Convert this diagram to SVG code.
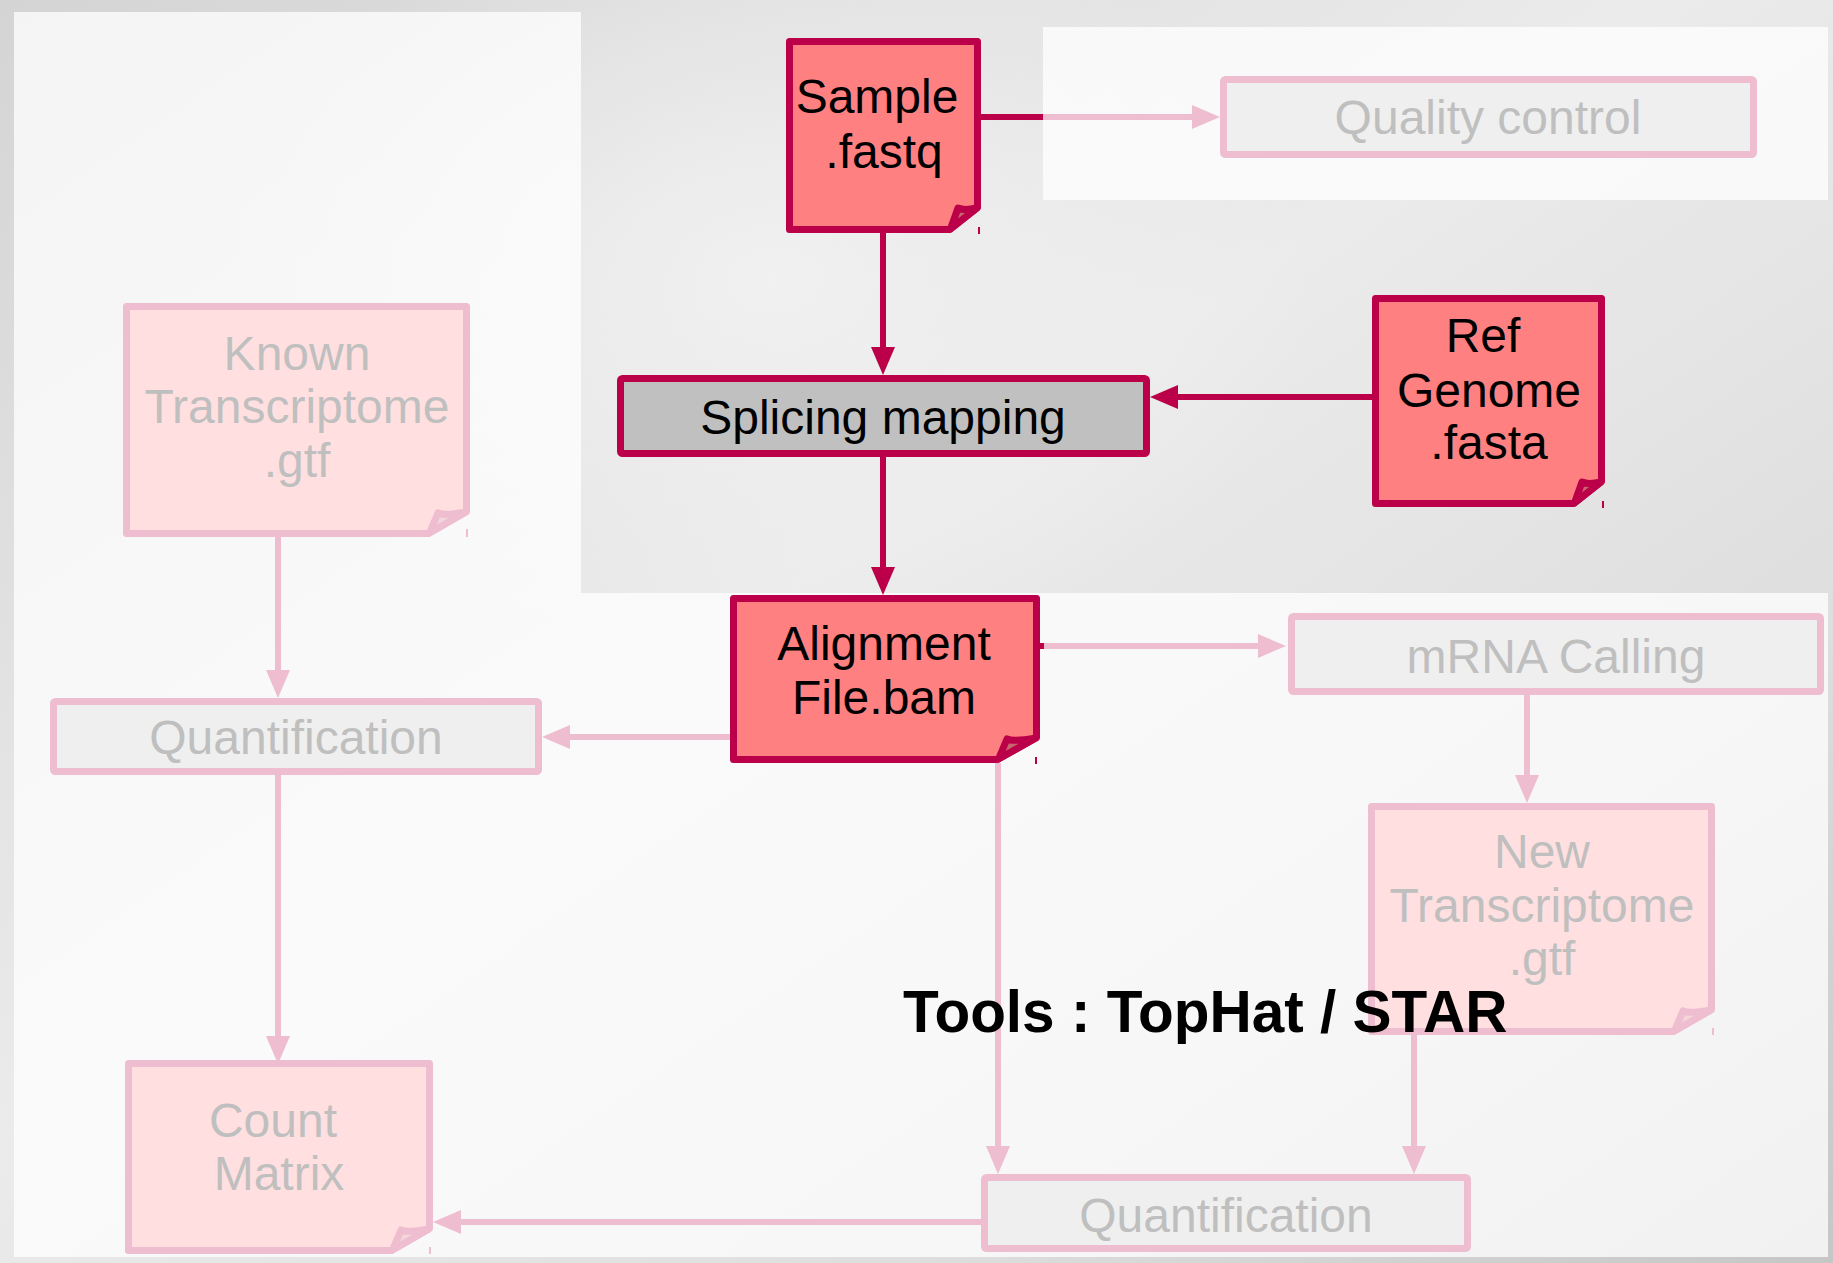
<svg xmlns="http://www.w3.org/2000/svg" width="1833" height="1263" viewBox="0 0 1833 1263">
<defs>
<linearGradient id="bg" x1="0" y1="0" x2="1" y2="1">
<stop offset="0" stop-color="#d4d4d4"/>
<stop offset="0.45" stop-color="#ebebeb"/>
<stop offset="0.75" stop-color="#dedede"/>
<stop offset="1" stop-color="#c6c6c6"/>
</linearGradient>
<radialGradient id="hl" cx="0.42" cy="0.22" r="0.3">
<stop offset="0" stop-color="#f2f2f2" stop-opacity="0.9"/>
<stop offset="1" stop-color="#f2f2f2" stop-opacity="0"/>
</radialGradient>
<marker id="ahC" viewBox="0 0 28 24" refX="16" refY="12" markerWidth="28" markerHeight="24" markerUnits="userSpaceOnUse" orient="auto">
<path d="M0 0 L28 12 L0 24 Z" fill="#bb0049"/>
</marker>
<marker id="ahP" viewBox="0 0 28 24" refX="16" refY="12" markerWidth="28" markerHeight="24" markerUnits="userSpaceOnUse" orient="auto">
<path d="M0 0 L28 12 L0 24 Z" fill="#eebdd0"/>
</marker>
</defs>
<style>
text { font-family: "Liberation Sans", Arial, sans-serif; font-size: 48px; text-anchor: middle; }
.on { stroke: #bb0049; stroke-width: 7; stroke-linejoin: round; }
.off { stroke: #eebdd0; stroke-width: 7; stroke-linejoin: round; }
.docOn { fill: #ff8080; }
.docOff { fill: #ffdfdf; }
.curlOn { fill: #c8666e; }
.curlOff { fill: #f2d6da; }
.procOn { fill: #c0c0c0; }
.procOff { fill: #efefef; }
.tOn { fill: #000000; }
.tOff { fill: #bfbfbf; }
.lnC { stroke: #bb0049; stroke-width: 6; fill: none; }
.lnP { stroke: #eebdd0; stroke-width: 6; fill: none; }
.tick { stroke-width: 2; }
.panel { fill: #ffffff; fill-opacity: 0.75; }
.tools { font-weight: bold; font-size: 58.5px; text-anchor: start; }
</style>

<rect x="0" y="0" width="1833" height="1263" fill="url(#bg)"/>
<rect x="0" y="0" width="1833" height="1263" fill="url(#hl)"/>

<g id="panels">
<rect class="panel" x="14" y="12" width="567" height="1245"/>
<rect class="panel" x="1043" y="27" width="785" height="173"/>
<rect class="panel" x="581" y="593" width="1247" height="664"/>
</g>

<g id="connectors">
<path class="lnC" d="M981 117 H1043"/>
<path class="lnP" d="M1043 117 H1208" marker-end="url(#ahP)"/>
<path class="lnC" d="M883 233 V363" marker-end="url(#ahC)"/>
<path class="lnC" d="M1372 397 H1162" marker-end="url(#ahC)"/>
<path class="lnC" d="M883 457 V583" marker-end="url(#ahC)"/>
<path class="lnC" d="M1040 646 H1044"/>
<path class="lnP" d="M1044 646 H1274" marker-end="url(#ahP)"/>
<path class="lnP" d="M730 737 H554" marker-end="url(#ahP)"/>
<path class="lnP" d="M998 763 V1162" marker-end="url(#ahP)"/>
<path class="lnP" d="M278 537 V686" marker-end="url(#ahP)"/>
<path class="lnP" d="M278 775 V1052" marker-end="url(#ahP)"/>
<path class="lnP" d="M1527 695 V791" marker-end="url(#ahP)"/>
<path class="lnP" d="M1414 1035 V1162" marker-end="url(#ahP)"/>
<path class="lnP" d="M981 1222 H445" marker-end="url(#ahP)"/>
</g>

<g id="sample">
<path class="on docOn" d="M789.5 41.5 H977.5 V207.5 L949.5 229.5 H789.5 Z"/>
<path class="on curlOn" stroke-width="4" d="M950.5 229 L958 208 Q964 211 977 208 Z"/>
<line class="on tick" x1="979" y1="227" x2="979" y2="234"/>
<text class="tOn" x="877" y="113">Sample</text>
<text class="tOn" x="884" y="168">.fastq</text>
</g>

<g id="ref-genome">
<path class="on docOn" d="M1375.5 298.5 H1601.5 V481.5 L1573.5 503.5 H1375.5 Z"/>
<path class="on curlOn" stroke-width="4" d="M1574.5 503 L1582 482 Q1588 485 1601 482 Z"/>
<line class="on tick" x1="1603" y1="501" x2="1603" y2="508"/>
<text class="tOn" x="1483" y="352">Ref</text>
<text class="tOn" x="1489" y="407">Genome</text>
<text class="tOn" x="1489" y="459">.fasta</text>
</g>

<g id="splicing-mapping">
<rect class="on procOn" x="620.5" y="378.5" width="526" height="75" rx="2"/>
<text class="tOn" x="883" y="434">Splicing mapping</text>
</g>

<g id="quality-control">
<rect class="off procOff" x="1223.5" y="79.5" width="530" height="75" rx="2"/>
<text class="tOff" x="1488" y="134">Quality control</text>
</g>

<g id="alignment">
<path class="on docOn" d="M733.5 598.5 H1036.5 V737.5 L997.5 759.5 H733.5 Z"/>
<path class="on curlOn" stroke-width="4" d="M998.5 759 L1007 739 Q1013 742 1036 738 Z"/>
<line class="on tick" x1="1036" y1="757" x2="1036" y2="764"/>
<text class="tOn" x="884" y="660">Alignment</text>
<text class="tOn" x="884" y="714">File.bam</text>
</g>

<g id="mrna-calling">
<rect class="off procOff" x="1291.5" y="616.5" width="529" height="75" rx="2"/>
<text class="tOff" x="1556" y="673">mRNA Calling</text>
</g>

<g id="known-transcriptome">
<path class="off docOff" d="M126.5 306.5 H466.5 V511.5 L428.5 533.5 H126.5 Z"/>
<path class="off curlOff" stroke-width="4" d="M429.5 533 L438 513 Q444 516 466 512 Z"/>
<line class="off tick" x1="467" y1="529" x2="467" y2="537"/>
<text class="tOff" x="297" y="370">Known</text>
<text class="tOff" x="297" y="423">Transcriptome</text>
<text class="tOff" x="297" y="477">.gtf</text>
</g>

<g id="quantification-left">
<rect class="off procOff" x="53.5" y="701.5" width="485" height="70" rx="2"/>
<text class="tOff" x="296" y="754">Quantification</text>
</g>

<g id="new-transcriptome">
<path class="off docOff" d="M1371.5 806.5 H1711.5 V1009.5 L1673.5 1031.5 H1371.5 Z"/>
<path class="off curlOff" stroke-width="4" d="M1674.5 1031 L1683 1011 Q1689 1014 1711 1010 Z"/>
<line class="off tick" x1="1713" y1="1028" x2="1713" y2="1035"/>
<text class="tOff" x="1542" y="868">New</text>
<text class="tOff" x="1542" y="922">Transcriptome</text>
<text class="tOff" x="1542" y="975">.gtf</text>
</g>

<g id="quantification-bottom">
<rect class="off procOff" x="984.5" y="1177.5" width="483" height="71" rx="2"/>
<text class="tOff" x="1226" y="1232">Quantification</text>
</g>

<g id="count-matrix">
<path class="off docOff" d="M128.5 1063.5 H429.5 V1228.5 L391.5 1250.5 H128.5 Z"/>
<path class="off curlOff" stroke-width="4" d="M392.5 1250 L401 1230 Q407 1233 429 1229 Z"/>
<line class="off tick" x1="430" y1="1247" x2="430" y2="1254"/>
<text class="tOff" x="273" y="1137">Count</text>
<text class="tOff" x="279" y="1190">Matrix</text>
</g>

<g id="tools-label">
<text class="tOn tools" x="903" y="1032">Tools : TopHat / STAR</text>
</g>
</svg>
